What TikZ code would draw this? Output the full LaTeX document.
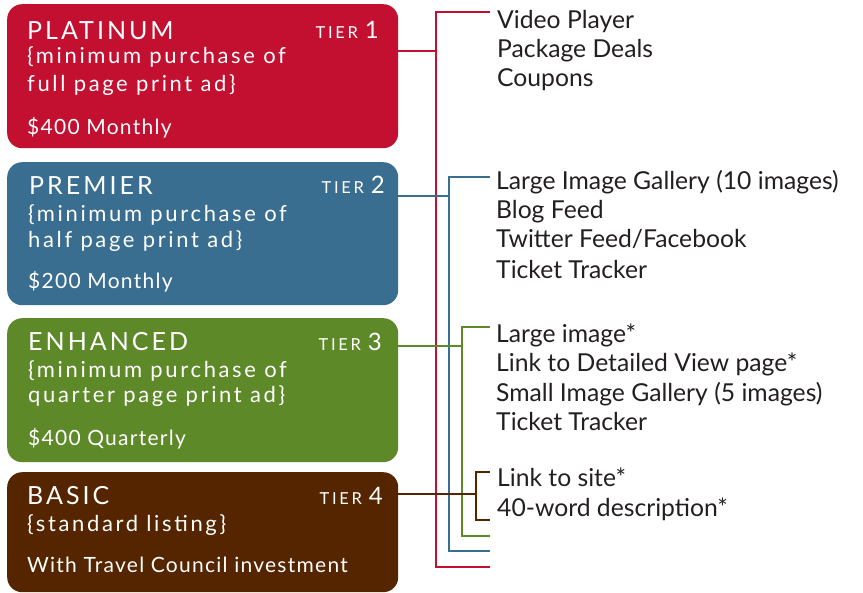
\documentclass[tikz,border=0pt]{standalone}
\usepackage{fontspec}
\setmainfont{Lato}
\newfontfamily\spacedfont[LetterSpace=12]{Lato}
\newfontfamily\tierfont[LetterSpace=16]{Lato}
\newfontfamily\pricefont[LetterSpace=6]{Lato}
\definecolor{platred}{HTML}{C31030}
\definecolor{premblue}{HTML}{3A6E91}
\definecolor{enhgreen}{HTML}{5E8929}
\definecolor{basbrown}{HTML}{552500}
\definecolor{listgray}{HTML}{231F20}
\begin{document}
\begin{tikzpicture}[x=1pt, y=-1pt,
  tierbox/.style={rounded corners=15pt, minimum width=391pt, anchor=north west, inner sep=0pt},
  boxtext/.style={text=white, anchor=base west, inner sep=0pt},
  boxtitle/.style={boxtext, font=\spacedfont\fontsize{25}{25}\selectfont},
  boxdesc/.style={boxtext, font=\spacedfont\fontsize{22}{22}\selectfont},
  boxprice/.style={boxtext, font=\pricefont\fontsize{21}{21}\selectfont},
  tierlabel/.style={text=white, anchor=base east, inner sep=0pt},
  feature/.style={text=listgray, anchor=base west, inner sep=0pt, font=\fontsize{24.7}{24.7}\selectfont},
  bracket/.style={line width=2.7pt}]
  \useasboundingbox (0,0) rectangle (863,593);

  % tier boxes
  \node[tierbox, fill=platred, minimum height=144pt] (platinum) at (7,4) {};
  \node[tierbox, fill=premblue, minimum height=143pt] (premier) at (7,162) {};
  \node[tierbox, fill=enhgreen, minimum height=144pt] (enhanced) at (7,318) {};
  \node[tierbox, fill=basbrown, minimum height=120pt] (basic) at (7,472) {};

  % box texts
  \node[boxtitle] (plat-title) at (27,40) {PLATINUM};
  \node[boxdesc] (plat-desc1) at (27,64) {\{minimum purchase of};
  \node[boxdesc] (plat-desc2) at (27,92) {full page print ad\}};
  \node[boxprice] (plat-price) at (27,135) {\$400 Monthly};
  \node[tierlabel] (plat-tier) at (379,39) {{\tierfont\fontsize{16.5}{16.5}\selectfont TIER}\hspace{7pt}{\fontsize{24}{24}\selectfont 1}};

  \node[boxtitle] (prem-title) at (29,195) {PREMIER};
  \node[boxdesc] (prem-desc1) at (28,222) {\{minimum purchase of};
  \node[boxdesc] (prem-desc2) at (28,248) {half page print ad\}};
  \node[boxprice] (prem-price) at (28,289) {\$200 Monthly};
  \node[tierlabel] (prem-tier) at (385,194) {{\tierfont\fontsize{16.5}{16.5}\selectfont TIER}\hspace{7pt}{\fontsize{24}{24}\selectfont 2}};

  \node[boxtitle] (enh-title) at (28,351) {ENHANCED};
  \node[boxdesc] (enh-desc1) at (28,378) {\{minimum purchase of};
  \node[boxdesc] (enh-desc2) at (28,403) {quarter page print ad\}};
  \node[boxprice] (enh-price) at (28,446) {\$400 Quarterly};
  \node[tierlabel] (enh-tier) at (382,351) {{\tierfont\fontsize{16.5}{16.5}\selectfont TIER}\hspace{7pt}{\fontsize{24}{24}\selectfont 3}};

  \node[boxtitle] (bas-title) at (27,505) {BASIC};
  \node[boxdesc] (bas-desc1) at (27,532) {\{standard listing\}};
  \node[boxprice] (bas-price) at (27,573) {With Travel Council investment};
  \node[tierlabel] (bas-tier) at (383,505) {{\tierfont\fontsize{16.5}{16.5}\selectfont TIER}\hspace{7pt}{\fontsize{24}{24}\selectfont 4}};

  % brackets
  \coordinate (plat-join) at (436,51);
  \coordinate (prem-join) at (449,196);
  \coordinate (enh-join) at (462,346);
  \coordinate (bas-join) at (476,494);
  \draw[bracket, platred] (490,12) -| (plat-join) |- (490,567);
  \draw[bracket, premblue] (490,177) -| (prem-join) |- (490,551);
  \draw[bracket, enhgreen] (490,327) -| (enh-join) |- (490,536);
  \draw[bracket, basbrown] (490,472) -| (bas-join) |- (490,520);
  \draw[bracket, platred] (plat-join -| platinum.east) -- (plat-join);
  \draw[bracket, premblue] (prem-join -| premier.east) -- (prem-join);
  \draw[bracket, enhgreen] (enh-join -| enhanced.east) -- (enh-join);
  \draw[bracket, basbrown] (bas-join -| basic.east) -- (bas-join);

  % feature lists
  \node[feature] (video) at (497,29) {Video Player};
  \node[feature] (deals) at (497,58) {Package Deals};
  \node[feature] (coupons) at (497,87) {Coupons};

  \node[feature] (gallery10) at (496,190) {Large Image Gallery (10 images)};
  \node[feature] (blog) at (496,219) {Blog Feed};
  \node[feature] (twitter) at (496,248) {Twitter Feed/Facebook};
  \node[feature] (tracker1) at (496,279) {Ticket Tracker};

  \node[feature] (largeimg) at (496,343) {Large image*};
  \node[feature] (detail) at (496,372) {Link to Detailed View page*};
  \node[feature] (gallery5) at (496,402) {Small Image Gallery (5 images)};
  \node[feature] (tracker2) at (496,431) {Ticket Tracker};

  \node[feature] (sitelink) at (497,487) {Link to site*};
  \node[feature] (words) at (497,517) {40-word description*};
\end{tikzpicture}
\end{document}
